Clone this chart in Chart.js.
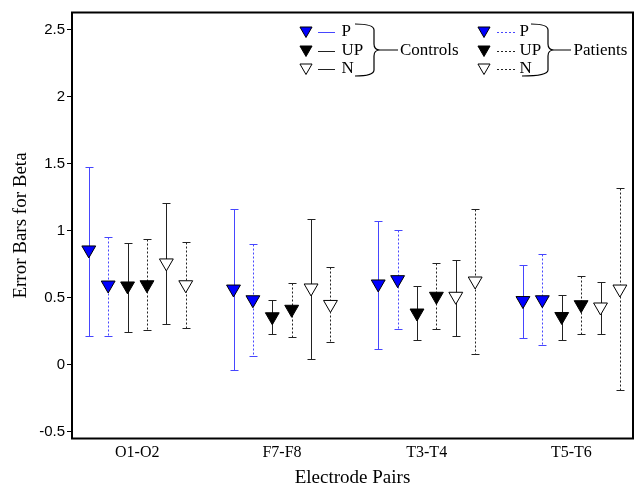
<!DOCTYPE html>
<html lang="en">
<head>
<meta charset="UTF-8">
<title>Error Bars for Beta</title>
<script src="https://cdn.jsdelivr.net/npm/chart.js@4"></script>
<style>
  html, body { margin: 0; padding: 0; background: #fff; }
</style>
</head>
<body>
<canvas id="chart" width="642" height="486"></canvas>
<script>
const groups = ['O1-O2', 'F7-F8', 'T3-T4', 'T5-T6'];
const yTicks = [-0.5, 0, 0.5, 1, 1.5, 2, 2.5];

// Controls: mean, lower and upper end of the error bar
const ctrlP    = [0.857, 0.565, 0.603, 0.479];
const ctrlPLo  = [0.214, -0.040, 0.119, 0.202];
const ctrlPHi  = [1.474, 1.163, 1.075, 0.745];
const ctrlUP   = [0.588, 0.358, 0.386, 0.360];
const ctrlUPLo = [0.244, 0.229, 0.182, 0.187];
const ctrlUPHi = [0.909, 0.481, 0.588, 0.523];
const ctrlN    = [0.760, 0.573, 0.511, 0.431];
const ctrlNLo  = [0.306, 0.043, 0.217, 0.232];
const ctrlNHi  = [1.205, 1.086, 0.784, 0.618];

// Patients
const patP    = [0.595, 0.485, 0.635, 0.485];
const patPLo  = [0.214, 0.065, 0.264, 0.145];
const patPHi  = [0.956, 0.901, 1.004, 0.824];
const patUP   = [0.597, 0.414, 0.511, 0.448];
const patUPLo = [0.259, 0.205, 0.264, 0.232];
const patUPHi = [0.939, 0.612, 0.760, 0.660];
const patN    = [0.597, 0.450, 0.625, 0.565];
const patNLo  = [0.276, 0.170, 0.082, -0.191];
const patNHi  = [0.919, 0.727, 1.165, 1.317];

const SERIF = "'Liberation Serif', 'Times New Roman', serif";
const SANS = "'Liberation Sans', Arial, sans-serif";
const BLUE = '#0000ff';
const BLUE_BAR = '#4646ff';
const DOTS = [2, 2];

// order inside each group, left to right
const series = [
  {name: 'P',  mean: ctrlP,  lo: ctrlPLo,  hi: ctrlPHi,  fill: BLUE,   bar: BLUE_BAR, dash: []},
  {name: 'P',  mean: patP,   lo: patPLo,   hi: patPHi,   fill: BLUE,   bar: BLUE_BAR, dash: DOTS},
  {name: 'UP', mean: ctrlUP, lo: ctrlUPLo, hi: ctrlUPHi, fill: '#000', bar: '#222',   dash: []},
  {name: 'UP', mean: patUP,  lo: patUPLo,  hi: patUPHi,  fill: '#000', bar: '#222',   dash: DOTS},
  {name: 'N',  mean: ctrlN,  lo: ctrlNLo,  hi: ctrlNHi,  fill: '#fff', bar: '#222',   dash: []},
  {name: 'N',  mean: patN,   lo: patNLo,   hi: patNHi,   fill: '#fff', bar: '#222',   dash: DOTS}
];
const step = 0.134; // spacing between series within a group

const errorBars = {
  id: 'errorBars',
  beforeDatasetsDraw(chart) {
    const {ctx, scales: {x, y}} = chart;
    ctx.save();
    ctx.lineWidth = 1;
    chart.data.datasets.forEach(ds => {
      ctx.strokeStyle = ds.barColor;
      ds.data.forEach(p => {
        const px = Math.round(x.getPixelForValue(p.x)) + 0.5;
        const top = Math.round(y.getPixelForValue(p.yMax)) + 0.5;
        const bot = Math.round(y.getPixelForValue(p.yMin)) + 0.5;
        ctx.setLineDash(ds.barDash);
        ctx.beginPath();
        ctx.moveTo(px, top);
        ctx.lineTo(px, bot);
        ctx.stroke();
        ctx.setLineDash([]);
        ctx.beginPath();
        ctx.moveTo(px - 4, top); ctx.lineTo(px + 4, top);
        ctx.moveTo(px - 4, bot); ctx.lineTo(px + 4, bot);
        ctx.stroke();
      });
    });
    ctx.restore();
  }
};

function brace(ctx, xlTop, xlBot, xr, top, bot, tail) {
  const mid = (top + bot) / 2;
  ctx.beginPath();
  ctx.moveTo(xlTop, top);
  ctx.quadraticCurveTo(xr, top, xr, top + 6);
  ctx.lineTo(xr, mid - 6);
  ctx.quadraticCurveTo(xr, mid, xr + 6, mid);
  ctx.lineTo(tail, mid);
  ctx.moveTo(xr + 6, mid);
  ctx.quadraticCurveTo(xr, mid, xr, mid + 6);
  ctx.lineTo(xr, bot - 6);
  ctx.quadraticCurveTo(xr, bot, xlBot, bot);
  ctx.stroke();
}

const frameAndLegend = {
  id: 'frameAndLegend',
  afterDraw(chart) {
    const {ctx, chartArea: a} = chart;
    ctx.save();
    ctx.strokeStyle = '#000';
    ctx.lineWidth = 2;
    ctx.strokeRect(a.left, a.top, a.right - a.left, a.bottom - a.top);

    const rows = [32, 51, 69];
    const cols = [
      {tri: 306, l0: 318, l1: 335, txt: 341.5, title: 'Controls', sets: [0, 2, 4]},
      {tri: 484, l0: 497, l1: 517, txt: 519.5, title: 'Patients', sets: [1, 3, 5]}
    ];
    ctx.font = '17px ' + SERIF;
    ctx.textBaseline = 'middle';
    ctx.fillStyle = '#000';
    cols.forEach(c => {
      c.sets.forEach((si, r) => {
        const s = series[si];
        const yy = rows[r];
        ctx.fillStyle = s.fill;
        ctx.strokeStyle = '#000';
        ctx.lineWidth = 1;
        ctx.setLineDash([]);
        Chart.helpers.drawPoint(ctx, {pointStyle: 'triangle', rotation: 180, radius: 7, borderWidth: 1}, c.tri, yy - 1.5);
        ctx.strokeStyle = s.bar;
        ctx.setLineDash(s.dash);
        ctx.beginPath();
        ctx.moveTo(c.l0, yy + 0.5);
        ctx.lineTo(c.l1, yy + 0.5);
        ctx.stroke();
        ctx.setLineDash([]);
        ctx.fillStyle = '#000';
        ctx.fillText(s.name, c.txt, yy);
      });
    });
    ctx.strokeStyle = '#000';
    ctx.lineWidth = 1.2;
    brace(ctx, 355, 355, 374, 24, 76, 398);
    brace(ctx, 531, 522, 548, 24, 76, 571);
    ctx.fillText('Controls', 400, 51);
    ctx.fillText('Patients', 573.5, 51);
    ctx.restore();
  }
};

new Chart(document.getElementById('chart'), {
  type: 'scatter',
  data: {
    datasets: series.map((s, i) => ({
      label: s.name,
      data: groups.map((g, k) => ({x: k + 1 + (i - 2.5) * step, y: s.mean[k], yMin: s.lo[k], yMax: s.hi[k]})),
      pointStyle: 'triangle',
      rotation: 180,
      pointRadius: 8,
      pointHoverRadius: 8,
      backgroundColor: s.fill,
      borderColor: '#000',
      borderWidth: 1,
      showLine: false,
      barColor: s.bar,
      barDash: s.dash
    }))
  },
  options: {
    responsive: false,
    animation: false,
    layout: {padding: {top: 12.5, right: 7, left: 0, bottom: 0}},
    plugins: {legend: {display: false}, tooltip: {enabled: false}},
    scales: {
      x: {
        type: 'linear',
        min: 0.549,
        max: 4.4255,
        afterBuildTicks: s => { s.ticks = groups.map((g, i) => ({value: i + 1})); },
        afterFit: s => { s.height = 47.5; },
        grid: {display: false, drawTicks: false},
        border: {display: false},
        ticks: {color: '#000', font: {family: SERIF, size: 16}, padding: 5, maxRotation: 0, autoSkip: false,
                callback: v => groups[v - 1]},
        title: {display: true, text: 'Electrode Pairs', color: '#000', font: {family: SERIF, size: 19},
                padding: {top: 0, bottom: -3}}
      },
      y: {
        min: -0.551,
        max: 2.63,
        afterBuildTicks: s => { s.ticks = yTicks.map(v => ({value: v})); },
        afterFit: s => { s.width = 72; },
        grid: {drawOnChartArea: false, tickLength: 5, color: '#000'},
        border: {display: false},
        ticks: {color: '#000', font: {family: SANS, size: 15}, padding: 2, callback: v => String(v)},
        title: {display: true, text: 'Error Bars for Beta', color: '#000', font: {family: SERIF, size: 19},
                padding: {top: 10, bottom: 0}}
      }
    }
  },
  plugins: [errorBars, frameAndLegend]
});
</script>
</body>
</html>
